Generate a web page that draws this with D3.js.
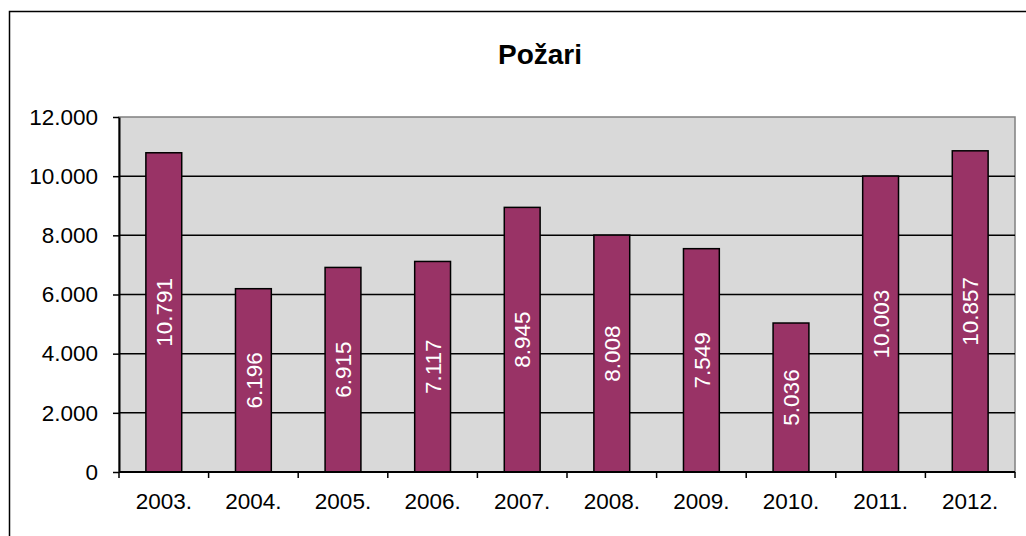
<!DOCTYPE html>
<html>
<head>
<meta charset="utf-8">
<script src="https://cdn.jsdelivr.net/npm/d3@7"></script>
<style>
  body { margin: 0; background: #fff; }
  text { font-family: "Liberation Sans", Arial, sans-serif; }
</style>
</head>
<body>
<svg id="chart"></svg>
<script>
var years = ['2003.', '2004.', '2005.', '2006.', '2007.', '2008.', '2009.', '2010.', '2011.', '2012.'];
var fires = [10791, 6196, 6915, 7117, 8945, 8008, 7549, 5036, 10003, 10857];
var yTicks = [0, 2000, 4000, 6000, 8000, 10000, 12000];
var title = 'Požari';

var width = 1026, height = 536;
var plot = { left: 119, top: 117, right: 1015, bottom: 472 };

var svg = d3.select('#chart').attr('width', width).attr('height', height);

function fmt(v) {
  return d3.format(',')(v).replace(/,/g, '.');
}

// outer chart border (runs off right/bottom edge)
svg.append('rect')
  .attr('x', 9.5).attr('y', 11.5)
  .attr('width', 1030).attr('height', 540)
  .attr('fill', 'none').attr('stroke', '#000').attr('stroke-width', 1.5);

svg.append('text')
  .attr('x', 540).attr('y', 64)
  .attr('text-anchor', 'middle')
  .style('font-size', '28px').style('font-weight', 'bold')
  .text(title);

var x = d3.scaleBand().domain(years).range([plot.left, plot.right]).paddingInner(0.6).paddingOuter(0.3);
var xEdges = d3.scaleBand().domain(years).range([plot.left, plot.right]);
var y = d3.scaleLinear().domain([0, 12000]).range([plot.bottom, plot.top]);

// plot area
svg.append('rect')
  .attr('x', plot.left).attr('y', plot.top)
  .attr('width', plot.right - plot.left).attr('height', plot.bottom - plot.top)
  .attr('fill', '#d9d9d9').attr('stroke', '#808080').attr('stroke-width', 1.5);

// gridlines
svg.append('g').selectAll('line')
  .data(yTicks.slice(1, -1))
  .enter().append('line')
    .attr('x1', plot.left).attr('x2', plot.right)
    .attr('y1', function(d){ return y(d); }).attr('y2', function(d){ return y(d); })
    .attr('stroke', '#000').attr('stroke-width', 1.5);

// y axis
var yAxis = svg.append('g')
  .attr('transform', 'translate(' + plot.left + ',0)')
  .call(d3.axisLeft(y).tickValues(yTicks).tickFormat(fmt).tickSizeInner(6).tickSizeOuter(0).tickPadding(15));
yAxis.select('.domain').attr('stroke', '#000').attr('stroke-width', 2);
yAxis.selectAll('.tick line').attr('stroke-width', 1.5);
yAxis.selectAll('text').style('font-size', '22.5px').attr('fill', '#000')
  .style('font-family', '"Liberation Sans", Arial, sans-serif');

// bars
svg.append('g').selectAll('rect')
  .data(fires)
  .enter().append('rect')
    .attr('x', function(d, i){ return x(years[i]); })
    .attr('y', function(d){ return y(d); })
    .attr('width', x.bandwidth())
    .attr('height', function(d){ return plot.bottom - y(d); })
    .attr('fill', '#993366').attr('stroke', '#000').attr('stroke-width', 1.5);

// x axis
var xAxisG = svg.append('g').attr('transform', 'translate(0,' + plot.bottom + ')');
xAxisG.append('line')
  .attr('x1', plot.left).attr('x2', plot.right)
  .attr('stroke', '#000').attr('stroke-width', 2);
xAxisG.selectAll('line.tk')
  .data(years.concat(['end']))
  .enter().append('line').attr('class', 'tk')
    .attr('x1', function(d, i){ return i < years.length ? xEdges(d) : plot.right; })
    .attr('x2', function(d, i){ return i < years.length ? xEdges(d) : plot.right; })
    .attr('y1', 0).attr('y2', 6)
    .attr('stroke', '#000').attr('stroke-width', 1.5);
xAxisG.selectAll('text')
  .data(years)
  .enter().append('text')
    .attr('x', function(d){ return xEdges(d) + xEdges.bandwidth() / 2; })
    .attr('y', 37)
    .attr('text-anchor', 'middle')
    .style('font-size', '22.5px')
    .text(function(d){ return d; });

// data labels
svg.append('g').selectAll('text')
  .data(fires)
  .enter().append('text')
    .attr('transform', function(d, i){
      var cx = x(years[i]) + x.bandwidth() / 2;
      var cy = (y(d) + plot.bottom) / 2;
      return 'translate(' + cx + ',' + cy + ') rotate(-90)';
    })
    .attr('text-anchor', 'middle')
    .attr('dy', '0.36em')
    .attr('fill', '#fff')
    .style('font-size', '22.5px')
    .text(function(d){ return fmt(d); });
</script>
</body>
</html>
